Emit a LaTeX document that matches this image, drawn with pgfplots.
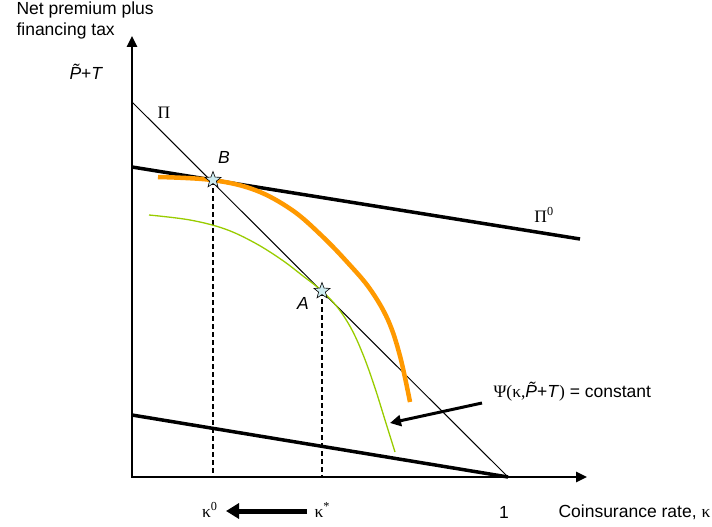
\documentclass[border=0pt]{standalone}
\usepackage{pgfplots}
\pgfplotsset{compat=1.18}
\usetikzlibrary{arrows.meta}
\usepackage{fontspec}
\setmainfont{Liberation Sans}
\newfontfamily\serif{Liberation Serif}
\definecolor{orng}{HTML}{FF9900}
\definecolor{grn}{HTML}{99CC00}
\definecolor{starfill}{HTML}{CDEBF0}
\pgfdeclareplotmark{fstar}{%
  \pgfpathmoveto{\pgfpointpolar{90}{\pgfplotmarksize}}%
  \pgfpathlineto{\pgfpointpolar{126}{0.42\pgfplotmarksize}}%
  \pgfpathlineto{\pgfpointpolar{162}{\pgfplotmarksize}}%
  \pgfpathlineto{\pgfpointpolar{198}{0.42\pgfplotmarksize}}%
  \pgfpathlineto{\pgfpointpolar{234}{\pgfplotmarksize}}%
  \pgfpathlineto{\pgfpointpolar{270}{0.42\pgfplotmarksize}}%
  \pgfpathlineto{\pgfpointpolar{306}{\pgfplotmarksize}}%
  \pgfpathlineto{\pgfpointpolar{342}{0.42\pgfplotmarksize}}%
  \pgfpathlineto{\pgfpointpolar{18}{\pgfplotmarksize}}%
  \pgfpathlineto{\pgfpointpolar{54}{0.42\pgfplotmarksize}}%
  \pgfpathclose
  \pgfusepathqfillstroke}
\begin{document}
\begin{tikzpicture}
\path[use as bounding box] (0,0) rectangle (712bp,527bp);
\begin{axis}[at={(0,0)},anchor=south west, scale only axis,
  width=712bp, height=527bp, xmin=0, xmax=712, ymin=0, ymax=527,
  y dir=reverse, hide axis, clip=false,
  font=\fontsize{17.5bp}{20bp}\selectfont]
% axes
\addplot[line width=2.5bp, -{Triangle[length=11bp,width=10bp]}] coordinates {(132,477)(132,36)};
\addplot[line width=2.5bp, -{Triangle[length=11bp,width=10bp]}] coordinates {(131,477)(587,477)};
% Pi line
\addplot[line width=1bp, black] coordinates {(132,102)(508,477)};
% Pi0 line and lower line
\addplot[line width=3.5bp, black] coordinates {(132,167)(580,239)};
\addplot[line width=3.5bp, black] coordinates {(132,415)(508,477)};
% dashed verticals
\addplot[line width=2bp, black, dash pattern=on 5bp off 3bp] coordinates {(213,180)(213,477)};
\addplot[line width=2bp, black, dash pattern=on 5bp off 3bp] coordinates {(322,291)(322,477)};
% orange curve
\addplot[line width=4.5bp, orng, smooth, tension=0.6] coordinates {(158,177)(212,180)(255,190)(292,210)(322,236)(348,263)(370,289)(388,320)(400,356)(410,402)};
% green curve
\addplot[line width=1.3bp, grn, smooth, tension=0.6] coordinates {(149,215)(190,220)(225,229)(255,243)(282,260)(303,276)(322,291)(338,308)(352,330)(364,357)(375,388)(385,420)(395,452)};
% stars
\addplot[only marks, mark=fstar, mark size=8.5bp, mark options={fill=starfill, draw=black, line width=0.6bp}] coordinates {(213,180)(322,291)};
% Psi arrow
\addplot[line width=3bp, black, -{Triangle[length=11bp,width=11bp]}] coordinates {(482,403)(390,423)};
% kappa arrow
\addplot[line width=5bp, black, -{Triangle[length=13bp,width=15bp]}] coordinates {(307,511)(226,511)};
% labels
\node[anchor=base west] at (axis cs:13,15) {Net premium plus};
\node[anchor=base west] at (axis cs:13,36) {financing tax};
\node[anchor=base west] at (axis cs:66,80) {\textit{\~{P}}+\textit{T}};
\node at (axis cs:164,113) {\serif Π};
\node at (axis cs:224,157) {\textit{B}};
\node at (axis cs:303,303) {\textit{A}};
\node at (axis cs:544,215) {\serif Π\textsuperscript{0}};
\node[anchor=base west] at (axis cs:490,397) {{\serif Ψ(κ,}\textit{\~{P}}+\textit{T}{\serif )} = constant};
\node[anchor=base east] at (axis cs:221,517) {\serif κ\textsuperscript{0}};
\node[anchor=base west] at (axis cs:311,517) {\serif κ\textsuperscript{*}};
\node[anchor=base] at (axis cs:504,518) {1};
\node[anchor=base west] at (axis cs:555,517) {Coinsurance rate, {\serif κ}};
\end{axis}
\end{tikzpicture}
\end{document}
